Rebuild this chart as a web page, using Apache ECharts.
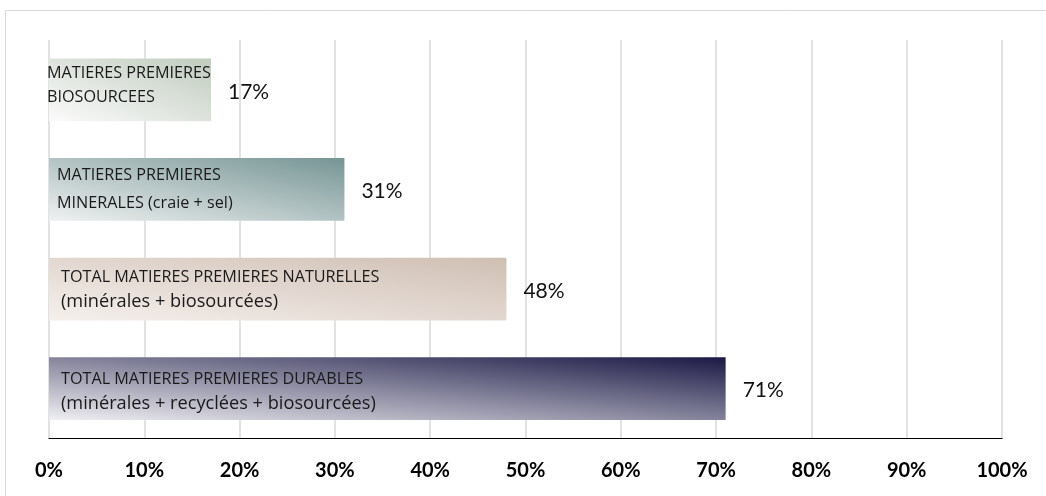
<!DOCTYPE html>
<html>
<head>
<meta charset="utf-8">
<script src="https://cdn.jsdelivr.net/npm/echarts@6/dist/echarts.min.js"></script>
<style>
html,body{margin:0;padding:0;background:#fff;}
#chart{width:1046px;height:496px;}
</style>
</head>
<body>
<div id="chart"></div>
<script>
// ---- data ----
const categories = [
  'MATIERES PREMIERES\nBIOSOURCEES',
  'MATIERES PREMIERES\nMINERALES (craie + sel)',
  'TOTAL MATIERES PREMIERES NATURELLES\n(minérales + biosourcées)',
  'TOTAL MATIERES PREMIERES DURABLES\n(minérales + recyclées + biosourcées)'
];
const values = [17, 31, 48, 71];
const axisMin = 0, axisMax = 100, axisStep = 10;

// ---- styles ----
const barColors = [
  ['#fbfbfb', '#c0ccbe'],
  ['#eff1f1', '#779595'],
  ['#f5f0ed', '#cfbfb3'],
  ['#efeff3', '#1c1a45']
];
const catLabelOffsets = [[-2, -4], [8, 0], [12, 1], [12, 3]];
const catLabelLineHeights = [24, 27.5, 24.5, 25];
const CAT_FONT = 'Open Sans';
const FONT = 'Lato';
const MAIN_SIZE = 16.2, SUB_SIZE = 18.2;
const plotW = 953, barH = 63;

function excelGradient(v, c) {
  const w = v / 100 * plotW, h = barH;
  const L2 = w * w + h * h;
  const x2 = 2 * h * h / L2;
  const y2 = 1 - 2 * w * w / L2;
  return new echarts.graphic.LinearGradient(0, 1, x2, y2, [
    { offset: 0, color: c[0] },
    { offset: 1, color: c[1] }
  ]);
}

// lines that begin with "(" are set a little larger, as in the original
function richText(name) {
  return name.split('\n').map(line =>
    (line.charAt(0) === '(' ? '{b|' : '{a|') + line + '}'
  ).join('\n');
}

function catLabel(i) {
  const lh = catLabelLineHeights[i];
  return {
    show: true,
    position: 'insideLeft',
    distance: 0,
    offset: catLabelOffsets[i],
    formatter: richText(categories[i]),
    rich: {
      a: { fontFamily: CAT_FONT, fontSize: MAIN_SIZE, color: '#1a1a1a', lineHeight: lh },
      b: { fontFamily: CAT_FONT, fontSize: SUB_SIZE, color: '#1a1a1a', lineHeight: lh }
    }
  };
}

const chart = echarts.init(document.getElementById('chart'), null, { renderer: 'canvas' });
chart.setOption({
  animation: false,
  backgroundColor: '#ffffff',
  graphic: [{
    type: 'rect',
    shape: { x: 5.5, y: 10.5, width: 1200, height: 700 },
    style: { fill: 'none', stroke: '#d9d9d9', lineWidth: 1 },
    silent: true, z: -10
  }],
  grid: { left: 49, right: 44, top: 40, bottom: 57.5, containLabel: false },
  xAxis: {
    type: 'value',
    min: axisMin, max: axisMax, interval: axisStep,
    axisLine: { show: true, lineStyle: { color: '#000', width: 1.2 } },
    axisTick: { show: false },
    splitLine: { show: true, lineStyle: { color: '#d9d9d9', width: 1.5 } },
    axisLabel: {
      formatter: '{value}%',
      fontFamily: FONT, fontWeight: 'bold', fontSize: 20, color: '#000',
      margin: 22
    }
  },
  yAxis: {
    type: 'category',
    inverse: true,
    data: categories,
    axisLine: { show: false },
    axisTick: { show: false },
    axisLabel: { show: false },
    splitLine: { show: false }
  },
  series: [
    {
      type: 'bar',
      barCategoryGap: '37%',
      data: values.map((v, i) => ({
        value: v,
        itemStyle: { color: excelGradient(v, barColors[i]) },
        label: catLabel(i)
      })),
      silent: true
    },
    {
      type: 'bar',
      barGap: '-100%',
      barCategoryGap: '37%',
      data: values,
      itemStyle: { color: 'rgba(0,0,0,0)' },
      label: {
        show: true,
        position: 'right',
        distance: 17,
        offset: [0, 2],
        formatter: '{c}%',
        fontFamily: FONT, fontSize: 21, color: '#111'
      },
      silent: true
    }
  ]
});
</script>
</body>
</html>
